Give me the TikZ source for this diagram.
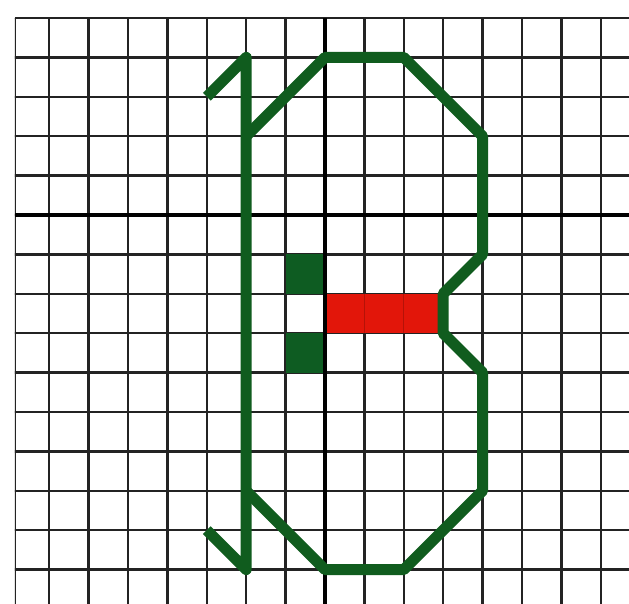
\documentclass[tikz,border=0pt]{standalone}
\definecolor{penGreen}{RGB}{16,92,30}
\definecolor{cellGreen}{RGB}{14,92,34}
\definecolor{cellRed}{RGB}{226,22,10}
\definecolor{gridInk}{RGB}{35,35,35}
\tikzset{
  gridline/.style={gridInk, line width=1.6pt},
  axisline/.style={black, line width=3.4pt},
  penline/.style={penGreen, line width=8pt, line join=round, line cap=butt},
}
\begin{document}
\begin{tikzpicture}
\useasboundingbox[fill=white] (-8.249,-9.873) rectangle (7.716,5.457);
% grid
\begin{scope}
\clip (-7.87,-9.873) rectangle (7.716,5.0);
\foreach \x in {-7,...,7} \draw[gridline] (\x,5.1) -- (\x,-9.9);
\foreach \y in {-9,...,5} \draw[gridline] (-7.9,\y) -- (7.8,\y);
\draw[gridline] (-7.87,5.1) -- (-7.87,-9.9);
\end{scope}
\draw[gridline] (-7.87,5) -- (7.716,5);
% axes
\draw[axisline] (-7.87,0) -- (7.716,0);
\draw[axisline] (0,5) -- (0,-9.873);
% coloured cells
\fill[cellRed] (0,-2) rectangle (3,-3);
\draw[cellRed!80!black, line width=0.6pt] (1,-2) -- (1,-3) (2,-2) -- (2,-3);
\fill[cellGreen] (-1,-1) rectangle (0,-2);
\fill[cellGreen] (-1,-3) rectangle (0,-4);
\draw[axisline] (0,-0.5) -- (0,-4.5);
% the "1"
\draw[penline] (-3,3) -- (-2,4) -- (-2,-9) -- (-3,-8);
% the "B"
\draw[penline] (-2,2) -- (0,4) -- (2,4) -- (4,2) -- (4,-1) -- (3,-2) -- (3,-3)
  -- (4,-4) -- (4,-7) -- (2,-9) -- (0,-9) -- (-2,-7);
\end{tikzpicture}
\end{document}
